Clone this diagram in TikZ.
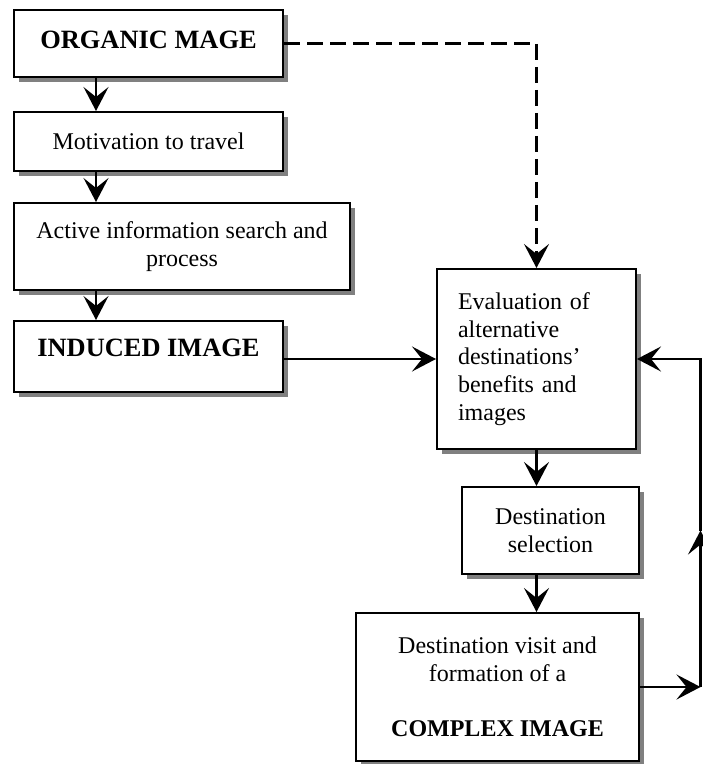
\documentclass[tikz,border=0pt]{standalone}
\usepackage{fontspec}
\setmainfont{Liberation Serif}
\usepackage{tikz}
\usetikzlibrary{arrows.meta,positioning,calc,shadows}

\begin{document}
\begin{tikzpicture}[
    x=0.5pt, y=-0.5pt,
    bx/.style={rectangle,draw,line width=1pt,fill=white,inner sep=0pt,align=center,
      font=\fontsize{12pt}{13.8pt}\selectfont,
      drop shadow={shadow xshift=2.5pt,shadow yshift=-2.5pt,fill=black!50,opacity=1}},
    hd/.style={bx,font=\fontsize{13.2pt}{15pt}\selectfont\bfseries,text height=9pt},
    ev/.style={bx,align=left,text width=78.5pt,inner xsep=10.5pt},
    ln/.style={line width=1.1pt},
    >={Stealth[length=12pt,width=12.5pt,inset=5pt]},
  ]
  \useasboundingbox (0,0) rectangle (702,764);
  % Left column
  \node[hd,minimum width=134.5pt,minimum height=33.5pt,text depth=4pt] (organic) at (148.5,43.5) {ORGANIC MAGE};
  \node[bx,minimum width=134.5pt,minimum height=29.5pt] (motiv) at (148.5,141.5) {Motivation to travel};
  \node[bx,minimum width=168pt,minimum height=43.5pt] (active) at (182,246.5) {Active information search and\\process};
  \node[hd,minimum width=134.5pt,minimum height=35.5pt,text depth=9.5pt] (induced) at (148.5,356.5) {INDUCED IMAGE};
  \coordinate (spine) at (96,0);
  \draw[ln,->] (organic.south -| spine) -- (motiv.north -| spine);
  \draw[ln,->] (motiv.south -| spine) -- (active.north -| spine);
  \draw[ln,->] (active.south -| spine) -- (induced.north -| spine);
  % Right column
  \node[ev,minimum height=90pt] (eval) at (536.5,359) {Evaluation of\\alternative\\destinations'\\benefits and\\images};
  \node[bx,minimum width=88.5pt,minimum height=43.5pt] (dsel) at (550.5,530.5) {Destination\\selection};
  \node[bx,minimum width=141.5pt,minimum height=74pt] (visit) at (497.5,687)
    {Destination visit and\\formation of a\\[13.8pt]\textbf{COMPLEX IMAGE}};
  \draw[ln,->,dash pattern=on 8pt off 3.5pt] (organic.east) -| (eval.north);
  \draw[ln,->] (induced.east |- eval.west) -- (eval.west);
  \draw[ln,->] (eval.south) -- (eval.south |- dsel.north);
  \draw[ln,->] (dsel.south -| eval.south) -- (visit.north -| eval.south);
  % Feedback loop
  \coordinate (loopx) at (700.5,0);
  \draw[ln,->] (visit.east) -- (visit.east -| loopx);
  \draw[ln,->] (visit.east -| loopx) -- (dsel.center -| loopx);
  \draw[ln,->] (dsel.center -| loopx) |- (eval.east);
\end{tikzpicture}
\end{document}
